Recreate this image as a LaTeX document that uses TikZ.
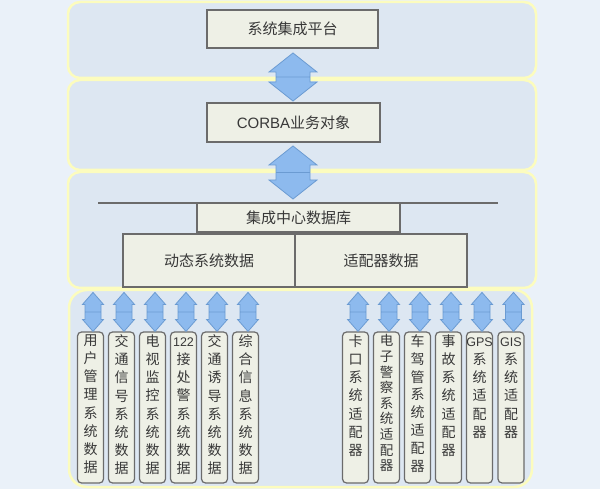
\documentclass[tikz,border=0pt]{standalone}
\usepackage{fontspec}
\setmainfont{Liberation Sans}
\newfontfamily\cjk{Noto Sans CJK SC}
\usetikzlibrary{calc}
\definecolor{bgc}{HTML}{EAF1F9}
\definecolor{panelfill}{HTML}{DDE7F2}
\definecolor{panelline}{HTML}{FCFCBE}
\definecolor{boxfill}{HTML}{EEF0E6}
\definecolor{boxline}{HTML}{6B6B6B}
\definecolor{arrfill}{HTML}{8DBAEE}
\definecolor{arrline}{HTML}{6B9BD2}
\definecolor{txt}{HTML}{383838}
\newcommand\dblarr[5]{%
  \path[fill=arrfill,draw=arrline,line width=0.8pt,line join=miter] let \p1=#1, \p2=#2 in
   (\x1,\y1) -- (\x1+#3pt,\y1-#5pt) -- (\x1+#4pt,\y1-#5pt) -- (\x1+#4pt,\y2+#5pt)
   -- (\x1+#3pt,\y2+#5pt) -- (\x1,\y2) -- (\x1-#3pt,\y2+#5pt) -- (\x1-#4pt,\y2+#5pt)
   -- (\x1-#4pt,\y1-#5pt) -- (\x1-#3pt,\y1-#5pt) -- cycle
   (\x1-#4pt,0.5*\y1+0.5*\y2) -- (\x1+#4pt,0.5*\y1+0.5*\y2);}
\tikzset{
  panel/.style={fill=panelfill,draw=panelline,line width=2.5pt,rounded corners=12pt},
  bigbox/.style={draw=boxline,fill=boxfill,line width=2pt,inner sep=0pt,text=txt,font=\cjk\fontsize{15}{18}\selectfont},
  tallbox/.style={draw=boxline,fill=boxfill,line width=1.2pt,rounded corners=4pt,minimum width=26pt,minimum height=151pt,inner sep=0pt},
  vtext/.style={anchor=north,align=center,inner sep=0pt,text=txt,font=\cjk\fontsize{14}{18.2}\selectfont}
}
\begin{document}
\begin{tikzpicture}[x=1pt,y=-1pt]
\fill[bgc] (0,0) rectangle (600,489);
\useasboundingbox (0,0) rectangle (600,489);
% panels
\draw[panel] (68,2) rectangle (536,78);
\draw[panel] (68,80) rectangle (536,170);
\draw[panel] (68,172) rectangle (536,288);
\draw[panel,rounded corners=18pt] (69,290) rectangle (532,487);
% main boxes
\node[bigbox,minimum width=171pt,minimum height=38pt] (plat) at (292.5,29) {系统集成平台};
\node[bigbox,minimum width=173pt,minimum height=39pt] (corba) at (293.5,122.5) {\fontspec{Liberation Sans}CORBA\cjk 业务对象};
\draw[boxline,line width=2pt] (98,203) -- (498,203);
\node[bigbox,minimum width=203pt,minimum height=29pt] (db) at (298.5,217.5) {集成中心数据库};
\node[bigbox,minimum width=172pt,minimum height=53pt] (dyn) at (209,260.5) {动态系统数据};
\node[bigbox,minimum width=172pt,minimum height=53pt] (ada) at (381,260.5) {适配器数据};
% big arrows
\dblarr{($(plat.south)+(0.5,4)$)}{($(corba.north)+(-0.5,-1)$)}{24}{17}{19}
\dblarr{($(corba.south)+(-0.5,3)$)}{($(db.north)+(-5.5,-3)$)}{24}{17}{19}
% tall boxes
\foreach \i/\x in {1/90.5,2/121.5,3/152.5,4/183.5,5/214.5,6/245.5}{
  \node[tallbox] (l\i) at (\x,407.5) {};
  \dblarr{($(l\i.north)+(2.5,-39)$)}{($(l\i.north)+(2.5,0)$)}{10.5}{8}{12}
}
\foreach \i/\x in {1/355.5,2/386.5,3/417.5,4/448.5,5/479.5,6/511}{
  \node[tallbox] (r\i) at (\x,407.5) {};
  \dblarr{($(r\i.north)+(2.5,-39)$)}{($(r\i.north)+(2.5,0)$)}{10.5}{8}{12}
}
\node[vtext] (l1t) at ($(l1.north)+(0,3)$) {用\\户\\管\\理\\系\\统\\数\\据};
\node[vtext] (l2t) at ($(l2.north)+(0,3)$) {交\\通\\信\\号\\系\\统\\数\\据};
\node[vtext] (l3t) at ($(l3.north)+(0,3)$) {电\\视\\监\\控\\系\\统\\数\\据};
\node[vtext] (l4t) at ($(l4.north)+(0,3)$) {\vphantom{接}{\fontspec{Liberation Sans}\fontsize{12.5}{14}\selectfont 122}\\接\\处\\警\\系\\统\\数\\据};
\node[vtext] (l5t) at ($(l5.north)+(0,3)$) {交\\通\\诱\\导\\系\\统\\数\\据};
\node[vtext] (l6t) at ($(l6.north)+(0,3)$) {综\\合\\信\\息\\系\\统\\数\\据};
\node[vtext] (r1t) at ($(r1.north)+(0,3)$) {卡\\口\\系\\统\\适\\配\\器};
\node[vtext,font=\cjk\fontsize{13.5}{15.6}\selectfont] (r2t) at ($(r2.north)+(0,3)$) {电\\子\\警\\察\\系\\统\\适\\配\\器};
\node[vtext,font=\cjk\fontsize{14}{17.8}\selectfont] (r3t) at ($(r3.north)+(0,3)$) {车\\驾\\管\\系\\统\\适\\配\\器};
\node[vtext] (r4t) at ($(r4.north)+(0,3)$) {事\\故\\系\\统\\适\\配\\器};
\node[vtext] (r5t) at ($(r5.north)+(0,3)$) {\vphantom{系}{\fontspec{Liberation Sans}\fontsize{12.5}{14}\selectfont GPS}\\系\\统\\适\\配\\器};
\node[vtext] (r6t) at ($(r6.north)+(0,3)$) {\vphantom{系}{\fontspec{Liberation Sans}\fontsize{12.5}{14}\selectfont GIS}\\系\\统\\适\\配\\器};
\end{tikzpicture}
\end{document}
